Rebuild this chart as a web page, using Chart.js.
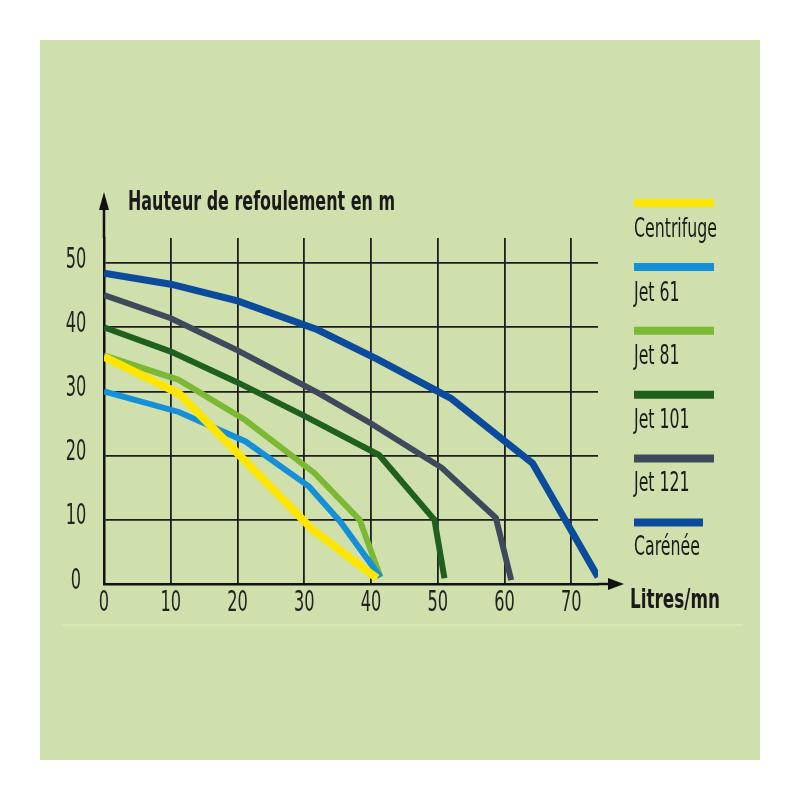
<!DOCTYPE html>
<html>
<head>
<meta charset="utf-8">
<script src="https://cdn.jsdelivr.net/npm/chart.js@4/dist/chart.umd.min.js"></script>
<style>
  body { margin: 0; background: #ffffff; }
  #panel { position: absolute; left: 40px; top: 40px; width: 720px; height: 720px; background: #cfe0ac; }
</style>
</head>
<body>
<div id="panel"><canvas id="myChart" width="720" height="720"></canvas></div>
<script>
// values (debit in litres/mn, hauteur in m)
var labels = ["Centrifuge", "Jet 61", "Jet 81", "Jet 101", "Jet 121", "Carénée"];

var centrifugeDebit = [0, 11.2, 31.3, 40.9];
var centrifugeHauteur = [35.4, 29.7, 8.4, 0.9];

var jet61Debit = [0, 11.2, 21.2, 30.7, 35.4, 41.4];
var jet61Hauteur = [30, 26.8, 22.2, 15.2, 9.7, 1.1];

var jet81Debit = [0, 11.2, 21.2, 31.5, 38.3, 41.4];
var jet81Hauteur = [35.6, 31.8, 25.5, 17.3, 10, 1.1];

var jet101Debit = [0, 10, 20, 30, 41.2, 49.5, 51];
var jet101Hauteur = [40, 36.2, 31.4, 26.2, 20.1, 10, 0.9];

var jet121Debit = [0, 10, 20, 32, 40, 50.6, 58.7, 61];
var jet121Hauteur = [45, 41.4, 36.4, 29.8, 25, 18.1, 10.3, 0.6];

var careneeDebit = [0, 10, 20, 32, 41, 50, 52, 64.2, 74];
var careneeHauteur = [48.4, 46.7, 44.1, 39.6, 35, 30, 28.9, 18.8, 1.1];

var colors = ['#ffe600', '#148fd8', '#7bb833', '#1f5f1f', '#3e4a5c', '#0c4b9b'];
var widths = [8, 6, 6, 6, 6, 7];

function points(xs, ys) {
  return xs.map(function(x, i) { return { x: x, y: ys[i] }; });
}

var series = [
  points(centrifugeDebit, centrifugeHauteur),
  points(jet61Debit, jet61Hauteur),
  points(jet81Debit, jet81Hauteur),
  points(jet101Debit, jet101Hauteur),
  points(jet121Debit, jet121Hauteur),
  points(careneeDebit, careneeHauteur)
];

var narrow = "'Liberation Sans Narrow', 'DejaVu Sans Condensed', sans-serif";

// text squeezed sideways to look like the tall condensed face of the original
function squeezedText(ctx, text, x, y, factor, align) {
  ctx.save();
  ctx.translate(x, y);
  ctx.scale(factor, 1);
  ctx.textAlign = align || 'left';
  ctx.fillText(text, 0, 0);
  ctx.restore();
}

// arrows, tick labels, axis titles and the legend (line above the name)
var decor = {
  id: 'decor',
  beforeDraw: function(chart) {
    var ctx = chart.ctx;
    ctx.save();
    ctx.strokeStyle = '#d8e8bc';
    ctx.lineWidth = 2;
    ctx.beginPath();
    ctx.moveTo(22, 585);
    ctx.lineTo(702, 585);
    ctx.stroke();
    ctx.restore();
  },
  afterDraw: function(chart) {
    var ctx = chart.ctx;
    var a = chart.chartArea;
    ctx.save();
    ctx.fillStyle = '#111';
    ctx.strokeStyle = '#111';
    ctx.lineWidth = 2.5;

    // y axis arrow
    ctx.beginPath();
    ctx.moveTo(a.left, a.top);
    ctx.lineTo(a.left, 168);
    ctx.stroke();
    ctx.beginPath();
    ctx.moveTo(a.left, 152);
    ctx.lineTo(a.left - 5, 170);
    ctx.lineTo(a.left + 5, 170);
    ctx.closePath();
    ctx.fill();

    // x axis arrow
    ctx.beginPath();
    ctx.moveTo(a.right, a.bottom);
    ctx.lineTo(571, a.bottom);
    ctx.stroke();
    ctx.beginPath();
    ctx.moveTo(584, a.bottom);
    ctx.lineTo(568, a.bottom - 6);
    ctx.lineTo(568, a.bottom + 6);
    ctx.closePath();
    ctx.fill();

    // tick labels, placed by the chart's own scales
    ctx.fillStyle = '#222';
    ctx.font = '29px ' + narrow;
    ctx.textBaseline = 'middle';
    var sx = chart.scales.x, sy = chart.scales.y;
    sx.ticks.forEach(function(t) {
      squeezedText(ctx, t.label, sx.getPixelForValue(t.value), 563, 0.62, 'center');
    });
    sy.ticks.forEach(function(t) {
      squeezedText(ctx, t.label, 36, sy.getPixelForValue(t.value) - 3, 0.62, 'center');
    });

    // axis titles
    ctx.fillStyle = '#1a1a1a';
    ctx.textBaseline = 'alphabetic';
    ctx.font = 'bold 27px ' + narrow;
    ctx.fillText('Hauteur de refoulement en m', 88, 170, 267);
    ctx.fillText('Litres/mn', 590, 568, 90);

    // legend
    ctx.font = '26px ' + narrow;
    var squeeze = Math.min(1, 83 / ctx.measureText('Centrifuge').width);
    chart.data.datasets.forEach(function(ds, i) {
      var y = 163 + 63.9 * i;
      ctx.strokeStyle = ds.borderColor;
      ctx.lineWidth = 8;
      ctx.beginPath();
      ctx.moveTo(594, y);
      ctx.lineTo(i === 5 ? 663 : 674, y);
      ctx.stroke();
      ctx.fillStyle = '#1a1a1a';
      squeezedText(ctx, ds.label, 594, 197 + 63.5 * i, squeeze);
    });
    ctx.restore();
  }
};

var chart = new Chart(document.getElementById('myChart').getContext('2d'), {
  type: 'line',
  data: {
    datasets: series.map(function(d, i) {
      return {
        label: labels[i],
        data: d,
        borderColor: colors[i],
        backgroundColor: colors[i],
        borderWidth: widths[i],
        pointRadius: 0,
        tension: 0,
        fill: false,
        borderCapStyle: 'butt',
        borderJoinStyle: 'miter'
      };
    })
  },
  options: {
    responsive: false,
    animation: false,
    layout: { padding: { left: 0, top: 198, right: 162, bottom: 136 } },
    plugins: {
      legend: { display: false },
      tooltip: { enabled: false }
    },
    scales: {
      x: {
        type: 'linear',
        min: 0,
        max: 74,
        afterFit: function(scale) { scale.height = 40; },
        ticks: { stepSize: 10, includeBounds: false, display: false },
        grid: { color: '#1e1e1e', lineWidth: 1.8, drawTicks: false },
        border: { color: '#111', width: 2.5 }
      },
      y: {
        min: 0,
        max: 53.9,
        afterFit: function(scale) { scale.width = 64; },
        ticks: { stepSize: 10, includeBounds: false, display: false },
        grid: { color: '#1e1e1e', lineWidth: 1.8, drawTicks: false },
        border: { color: '#111', width: 2.5 }
      }
    }
  },
  plugins: [decor]
});
</script>
</body>
</html>
